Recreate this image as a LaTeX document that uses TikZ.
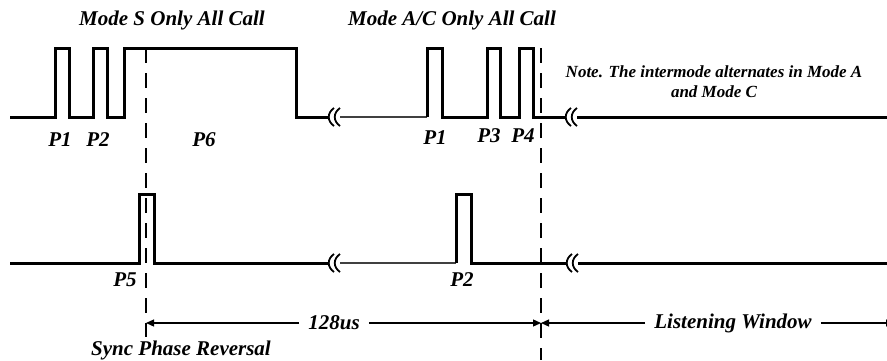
\documentclass[tikz,border=0pt]{standalone}
\usepackage{fontspec}
\setmainfont{Liberation Serif}
\usetikzlibrary{arrows.meta}

\begin{document}
\begin{tikzpicture}[x=1pt, y=-1pt, font=\bfseries\itshape\fontsize{21}{24}\selectfont,
  wave/.style={line width=3pt, line join=miter},
  gap/.style={line width=1.4pt, black!75},
  brk/.style={line width=1.8pt},
  cut/.style={line width=1.6pt, dash pattern=on 15pt off 10pt},
  dim/.style={line width=1.3pt, -{Triangle[length=8pt, width=7pt]}},
  lbl/.style={inner sep=0pt},
  dimlbl/.style={inner xsep=9pt, inner ysep=0pt},
  note/.style={inner sep=0pt, align=center, font=\bfseries\itshape\fontsize{17}{20}\selectfont}]
  \clip (0,0) rectangle (887,360);
  % interrogation, upper channel
  \draw[wave] (10,117) -- (55,117) |- (69,48) |- (93,117) |- (107,48) |- (124,117) |- (296,48) |- (329,117);
  \draw[gap] (340,117) -- (427,117);
  \draw[wave] (427,117) |- (442,48) |- (487,117) |- (500,48) |- (519,117) |- (533,48) |- (566,117);
  \draw[wave] (577,117) -- (887,117);
  % control pulses, lower channel
  \draw[wave] (10,263) -- (139,263) |- (154,194) |- (329,263);
  \draw[gap] (340,263) -- (456,263);
  \draw[wave] (456,263) |- (471,194) |- (567,263);
  \draw[wave] (578,263) -- (887,263);
  % time breaks
  \foreach \bx/\by in {329/117, 566/117, 329/263, 567/263} {
    \draw[brk] (\bx+5,\by-9) .. controls (\bx-2,\by-4) and (\bx-2,\by+4) .. (\bx+5,\by+9);
    \draw[brk] (\bx+11,\by-9) .. controls (\bx+4,\by-4) and (\bx+4,\by+4) .. (\bx+11,\by+9);
  }
  % markers
  \draw[cut] (146,48) -- (146,337);
  \draw[cut] (541,48) -- (541,360);
  \coordinate (rev) at (146,323);
  \coordinate (lst) at (541,323);
  \coordinate (edge) at (894,323);
  % labels
  \node[lbl] (modeS) at (172,20) {Mode S Only All Call};
  \node[lbl] (modeAC) at (452,20) {Mode A/C Only All Call};
  \node[note] (nt) at (714,82) {Note. The intermode alternates in Mode A\\and Mode C};
  \node[lbl] (p1s) at (60,140) {P1};
  \node[lbl] (p2s) at (98,140) {P2};
  \node[lbl] (p6) at (204,140) {P6};
  \node[lbl] (p1ac) at (435,138) {P1};
  \node[lbl] (p3) at (489,136) {P3};
  \node[lbl] (p4) at (523,136) {P4};
  \node[lbl] (p5) at (125,280) {P5};
  \node[lbl] (p2) at (462,280) {P2};
  \node[dimlbl] (t128) at (334,323) {128us};
  \node[dimlbl] (win) at (733,323) {Listening Window};
  \node[lbl] (sync) at (181,350) {Sync Phase Reversal};
  \draw[dim] (t128) -- (rev);
  \draw[dim] (t128) -- (lst);
  \draw[dim] (win) -- (lst);
  \draw[dim] (win) -- (edge);
\end{tikzpicture}
\end{document}
